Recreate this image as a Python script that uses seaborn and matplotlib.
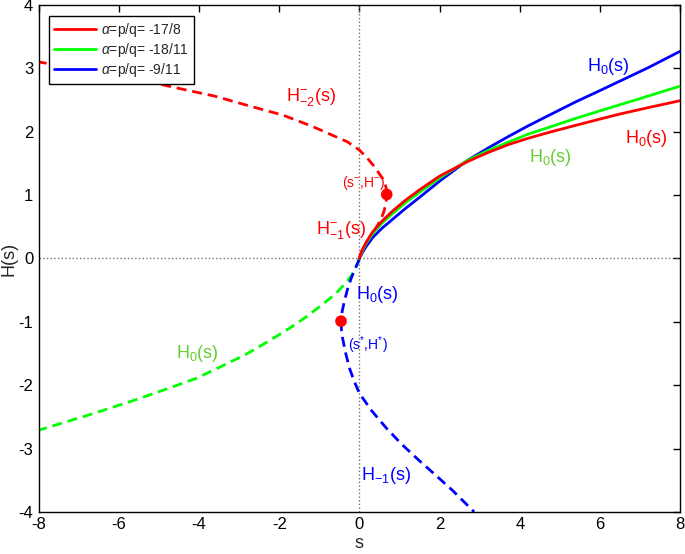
import numpy as np
import pandas as pd
import seaborn as sns
import matplotlib.pyplot as plt
from matplotlib.lines import Line2D

# values
# alpha = -17/8 (red)
red_h0_s = [0, 0.02, 0.08, 0.18, 0.33, 0.55, 0.83, 1.15, 1.49, 2.0, 2.7, 3.2, 3.73, 4.2, 4.73,
            5.39, 6.0, 6.5, 7.2, 8]
red_h0_H = [0, 0.06, 0.15, 0.27, 0.42, 0.58, 0.75, 0.92, 1.08, 1.30, 1.53, 1.67, 1.80, 1.895,
            1.99, 2.10, 2.20, 2.28, 2.38, 2.49]
red_hm1_s = [0, 0.05, 0.15, 0.3, 0.45, 0.55, 0.62, 0.66, 0.675, 0.68]
red_hm1_H = [0, 0.10, 0.22, 0.37, 0.52, 0.64, 0.76, 0.88, 0.95, 1.01]
red_hm2_s = [0.68, 0.675, 0.66, 0.63, 0.57, 0.48, 0.37, 0.2, 0, -0.3, -0.66, -1.16, -1.9,
             -2.82, -3.6, -4.48, -5.4, -6.30, -7.2, -8]
red_hm2_H = [1.01, 1.07, 1.13, 1.19, 1.27, 1.35, 1.45, 1.58, 1.71, 1.84, 1.94, 2.08, 2.26,
             2.42, 2.56, 2.68, 2.81, 2.93, 3.02, 3.10]

# alpha = -18/11 (green)
green_h0_s = [0, 0.02, 0.08, 0.18, 0.33, 0.55, 0.83, 1.15, 1.49, 2.0, 2.7, 3.2, 3.73, 4.2,
              4.73, 5.39, 6.0, 6.88, 8]
green_h0_H = [0, 0.05, 0.13, 0.25, 0.39, 0.55, 0.71, 0.88, 1.04, 1.27, 1.55, 1.70, 1.84, 1.96,
              2.07, 2.21, 2.33, 2.50, 2.72]
green_neg_s = [0, -0.02, -0.08, -0.18, -0.33, -0.6, -0.91, -1.3, -1.74, -2.25, -2.82, -3.4,
               -4.06, -4.9, -5.72, -6.8, -8]
green_neg_H = [0, -0.05, -0.13, -0.25, -0.38, -0.56, -0.72, -0.91, -1.10, -1.30, -1.51, -1.69,
               -1.89, -2.08, -2.26, -2.48, -2.71]

# alpha = -9/11 (blue)
blue_h0_s = [0, 0.02, 0.08, 0.18, 0.33, 0.55, 0.83, 1.15, 1.49, 2.0, 2.7, 3.2, 3.73, 4.2,
             4.73, 5.39, 6.0, 6.5, 7.2, 8]
blue_h0_H = [0, 0.03, 0.10, 0.20, 0.33, 0.47, 0.62, 0.79, 0.96, 1.22, 1.55, 1.74, 1.93, 2.09,
             2.26, 2.47, 2.65, 2.80, 3.01, 3.27]
blue_neg_s = [0, -0.03, -0.1, -0.21, -0.30, -0.37, -0.43, -0.46]
blue_neg_H = [0, -0.05, -0.15, -0.32, -0.49, -0.66, -0.83, -0.99]
blue_hm1_s = [-0.46, -0.45, -0.42, -0.35, -0.25, -0.13, 0, 0.3, 0.66, 1.05, 1.49, 1.9, 2.32,
              2.86]
blue_hm1_H = [-0.99, -1.12, -1.26, -1.48, -1.73, -1.94, -2.13, -2.40, -2.67, -2.93, -3.19,
              -3.42, -3.66, -4.0]

# branch points
pts_s = [0.68, -0.46]
pts_H = [1.01, -0.99]

legend_labels = [r'$\alpha$=p/q= -17/8', r'$\alpha$=p/q= -18/11', r'$\alpha$=p/q= -9/11']

sns.set_style('white')
plt.rcParams['font.family'] = ['Liberation Sans', 'DejaVu Sans']
plt.rcParams['mathtext.fontset'] = 'custom'
plt.rcParams['mathtext.rm'] = 'Liberation Sans'
plt.rcParams['mathtext.it'] = 'Liberation Sans:italic'
plt.rcParams['axes.unicode_minus'] = False

fig = plt.figure(figsize=(6.85, 5.54), dpi=100)
ax = fig.add_axes([0.0565, 0.076, 0.9365, 0.915])

# zero lines
ax.axhline(0, color='0.45', ls=':', lw=1, zorder=1)
ax.axvline(0, color='0.45', ls=':', lw=1, zorder=1)

RED, GREEN, BLUE = '#ff0000', '#00ff00', '#0000ff'
dash = (0, (3.6, 2.1))


def branch(s, H, color, ls, z=2):
    df = pd.DataFrame({'s': s, 'H': H})
    sns.lineplot(data=df, x='s', y='H', sort=False, estimator=None, color=color,
                 linestyle=ls, linewidth=2, ax=ax, zorder=z)


branch(red_hm2_s, red_hm2_H, RED, dash)
branch(red_hm1_s, red_hm1_H, RED, dash)
branch(green_neg_s, green_neg_H, GREEN, dash)
branch(blue_neg_s, blue_neg_H, BLUE, dash)
branch(blue_hm1_s, blue_hm1_H, BLUE, dash)
branch(blue_h0_s, blue_h0_H, BLUE, '-', 3)
branch(green_h0_s, green_h0_H, GREEN, '-', 3)
branch(red_h0_s, red_h0_H, RED, '-', 3)

sns.scatterplot(x=pts_s, y=pts_H, color=RED, s=70, edgecolor='none', ax=ax, zorder=5)

# branch labels
lab = dict(fontsize=13, ha='center', va='center')
ax.text(-1.2, 2.55, r'H$^{\mathregular{-}}_{\mathregular{-2}}$(s)', color=RED, **lab)
ax.text(-0.45, 0.45, r'H$^{\mathregular{-}}_{\mathregular{-1}}$(s)', color=RED, **lab)
ax.text(0.1, 1.19, r'(s$^{\mathregular{-}}$,H$^{\mathregular{-}}$)', color=RED, fontsize=10,
        ha='center', va='center')
ax.text(7.15, 1.9, r'H$_{\mathregular{0}}$(s)', color=RED, **lab)
ax.text(4.75, 1.6, r'H$_{\mathregular{0}}$(s)', color='#66cc33', **lab)
ax.text(-4.05, -1.5, r'H$_{\mathregular{0}}$(s)', color='#66cc33', **lab)
ax.text(6.2, 3.03, r'H$_{\mathregular{0}}$(s)', color=BLUE, **lab)
ax.text(0.45, -0.57, r'H$_{\mathregular{0}}$(s)', color=BLUE, **lab)
ax.text(0.2, -1.37, r'(s$^{*}$,H$^{*}$)', color=BLUE, fontsize=10, ha='center', va='center')
ax.text(0.65, -3.43, r'H$_{\mathregular{-1}}$(s)', color=BLUE, **lab)

ax.set_xlim(-8, 8)
ax.set_ylim(-4, 4)
ax.set_xticks(np.arange(-8, 9, 2))
ax.set_yticks(np.arange(-4, 5, 1))
ax.tick_params(direction='in', top=True, right=True, labelsize=12, length=5, width=1,
               pad=4, colors='black')
for sp in ax.spines.values():
    sp.set_color('black')
    sp.set_linewidth(1)
ax.set_xlabel('s', fontsize=13)
ax.set_ylabel('H(s)', fontsize=13)
ax.xaxis.set_label_coords(0.5, -0.045)
ax.yaxis.set_label_coords(-0.033, 0.5)

handles = [Line2D([], [], color=c, lw=2) for c in (RED, GREEN, BLUE)]
leg = ax.legend(handles, legend_labels, loc='upper left', fontsize=10, frameon=True,
                fancybox=False, edgecolor='black', framealpha=1, handlelength=3.0,
                handletextpad=0.4, borderpad=0.35, labelspacing=0.15, borderaxespad=0,
                bbox_to_anchor=(0.0165, 0.978))
leg.get_frame().set_linewidth(1)

fig.savefig('out.png', dpi=100)
